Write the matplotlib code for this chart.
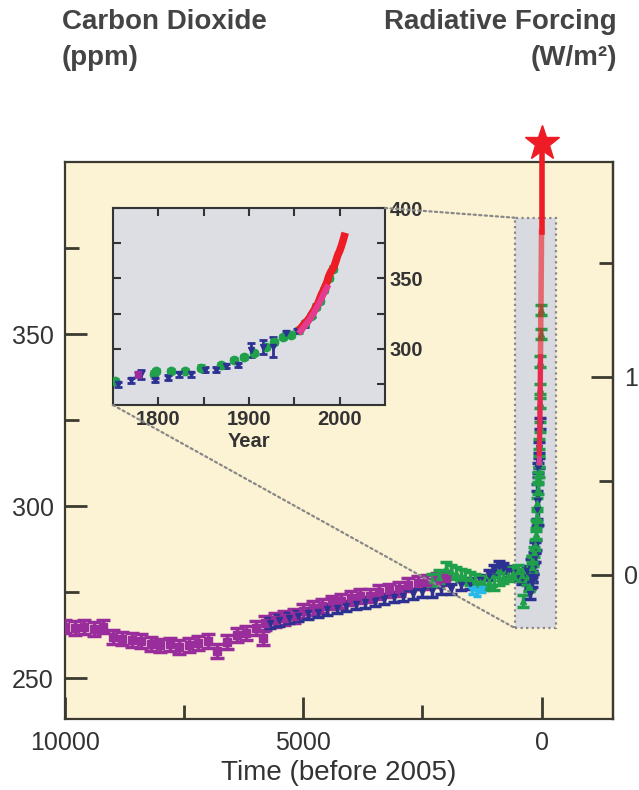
import numpy as np
import matplotlib.pyplot as plt
from matplotlib.patches import Rectangle, ConnectionPatch
from matplotlib.ticker import FixedLocator

plt.rcParams['font.family'] = ['Liberation Sans', 'DejaVu Sans']

# ice core records, years before 2005
purple_time = [10000, 9800, 9600, 9400, 9200, 9000, 8800, 8600, 8400, 8200, 8000, 7800,
               7600, 7400, 7200, 7000, 6800, 6600, 6400, 6200, 6000, 5850, 5800, 5600,
               5400, 5200, 5000, 4800, 4600, 4400, 4200, 4000, 3800, 3600, 3400, 3200,
               3000, 2800, 2600, 2400, 2200, 2000]
purple_co2 = [265.0, 264.5, 264.8, 264.2, 265.0, 262.0, 261.5, 261.0, 260.8, 260.0, 259.5, 259.8,
              259.0, 259.6, 260.2, 260.8, 258.0, 260.5, 262.5, 263.2, 264.5, 261.7, 266.0, 267.0,
              267.5, 268.0, 269.5, 270.3, 271.0, 272.0, 272.5, 273.2, 273.8, 274.0, 275.0, 275.5,
              276.0, 277.2, 277.8, 278.0, 278.5, 279.0]

blue_time = [5700, 5500, 5300, 5100, 4900, 4700, 4500, 4300, 4100, 3900, 3700, 3500, 3300,
             3100, 2900, 2700, 2500, 2300, 2100, 1900, 1700, 1500, 1300, 1100, 1000, 900,
             800, 700, 600, 500, 400, 300, 200]
blue_co2 = [266.0, 266.8, 267.5, 268.0, 268.8, 269.2, 270.0, 270.5, 271.0, 271.5, 272.0, 272.5, 273.0,
            273.5, 274.0, 274.5, 275.0, 275.2, 276.0, 276.0, 277.0, 277.5, 278.5, 280.0, 281.5, 282.5,
            282.0, 281.0, 280.5, 280.0, 279.0, 281.0, 279.5]

green_time = [2300, 2150, 2000, 1900, 1800, 1700, 1600, 1500, 1400, 1300, 1200, 1100, 1000,
              900, 800, 700, 600, 500, 400, 380, 300, 260]
green_co2 = [278.5, 279.5, 282.0, 281.0, 280.5, 280.0, 279.5, 279.0, 278.5, 278.0, 277.5, 278.0, 277.5,
             279.0, 279.5, 280.0, 280.5, 281.0, 280.0, 272.5, 279.0, 277.0]

cyan_time = [1450, 1350, 1250]
cyan_co2 = [275.5, 275.0, 276.0]

# recent records, calendar year
law_year = [1752, 1795, 1798, 1814, 1829, 1847, 1869, 1884, 1895, 1906, 1919, 1928, 1937,
            1946, 1955, 1962, 1968, 1974, 1978, 1983, 1988, 1993]
law_co2 = [276.8, 282.4, 284.0, 284.0, 284.0, 286.6, 288.7, 292.0, 294.4, 297.0, 301.0, 305.0, 308.5,
           310.0, 313.0, 318.0, 323.0, 330.0, 334.0, 342.0, 350.0, 357.0]

siple_year = [1756, 1770, 1781, 1796, 1811, 1823, 1836, 1851, 1864, 1875, 1888, 1902, 1915,
              1927, 1941, 1953, 1962, 1970]
siple_co2 = [274.6, 277.5, 281.7, 278.0, 279.5, 281.7, 281.7, 285.2, 285.2, 288.0, 288.7, 299.3, 301.4,
             301.4, 311.0, 312.5, 317.0, 324.0]
siple_err = [1.5, 1.5, 3.0, 1.5, 1.5, 1.5, 1.5, 1.5, 1.5, 1.5, 1.5, 5.0, 5.0,
             7.0, 1.5, 1.5, 1.5, 1.5]

mlo_year = [1958, 1960, 1962, 1964, 1966, 1968, 1970, 1972, 1974, 1976, 1978, 1980, 1982,
            1984, 1986, 1988, 1990, 1992, 1994, 1996, 1998, 2000, 2002, 2004, 2005]
mlo_co2 = [315.3, 316.9, 318.4, 319.6, 321.4, 323.0, 325.7, 327.5, 330.2, 332.1, 335.4, 338.7, 341.1,
           344.4, 347.2, 351.5, 354.4, 356.4, 358.8, 362.6, 366.7, 369.5, 373.2, 377.5, 379.8]

spo_year = [1957, 1960, 1963, 1966, 1969, 1972, 1975, 1978, 1981, 1984, 1986]
spo_co2 = [312.5, 315.0, 317.5, 319.8, 323.0, 326.0, 329.5, 333.0, 337.0, 341.0, 343.5]

star_co2 = 405.5

PURPLE = '#9a2d9c'
BLUE = '#2d3192'
GREEN = '#20a04a'
CYAN = '#29b8ea'
RED = '#ee1c25'
PINK = '#e63a8f'
CREAM = '#fcf2d4'
GRAY = '#dcdee4'
INK = '#333333'


def to_forcing(c):
    return 5.35 * np.log(np.clip(c, 1e-6, None) / 280.0)


def to_ppm(f):
    return 280.0 * np.exp(np.asarray(f) / 5.35)


fig = plt.figure(figsize=(6.39, 7.90), dpi=100)
ax = fig.add_axes([0.1017, 0.0893, 0.8576, 0.7056])
ax.set_facecolor(CREAM)
ax.set_xlim(10000, -1500)
ax.set_ylim(238, 400)

# zoom box around the recent period
ax.add_patch(Rectangle((550, 264.5), -860, 119.3, facecolor='#d8dae0', edgecolor='#888888',
                       linestyle=(0, (1, 1.5)), linewidth=1.6, zorder=1))

eb = dict(linestyle='none', elinewidth=2.5, capthick=2.5, zorder=3)
ax.errorbar(purple_time, purple_co2, yerr=2.0, fmt='s', ms=6, color=PURPLE, capsize=5, **eb)
ax.errorbar(blue_time, blue_co2, yerr=1.5, fmt='v', ms=5, color=BLUE, capsize=4, **eb)
ax.errorbar(green_time, green_co2, yerr=1.8, fmt='^', ms=5, color=GREEN, capsize=4, **eb)
ax.errorbar(cyan_time, cyan_co2, yerr=1.0, fmt='v', ms=4, color=CYAN, capsize=3, **eb)

law_t = [2005 - y for y in law_year]
siple_t = [2005 - y for y in siple_year]
mlo_t = [2005 - y for y in mlo_year]
spo_t = [2005 - y for y in spo_year]
ax.errorbar(siple_t, siple_co2, yerr=siple_err, fmt='v', ms=5, color=BLUE, capsize=4, **eb)
ax.errorbar(law_t, law_co2, yerr=1.5, fmt='^', ms=5, color=GREEN, capsize=4, **eb)
ax.plot(spo_t, spo_co2, color=PINK, lw=3.5, zorder=4)
ax.plot(mlo_t, mlo_co2, color=RED, lw=4, alpha=0.6, zorder=4)
ax.plot([0, 0], [mlo_co2[-1], star_co2], color=RED, lw=4, zorder=5, clip_on=False)
ax.plot([0], [star_co2], marker='*', ms=26, color=RED, zorder=6, clip_on=False)

for s in ax.spines.values():
    s.set_color('#3a3a30')
    s.set_linewidth(1.6)

ax.set_xticks([10000, 5000, 0])
ax.xaxis.set_minor_locator(FixedLocator([7500, 2500]))
ax.set_yticks([250, 300, 350])
ax.yaxis.set_minor_locator(FixedLocator([275, 325, 375]))
ax.tick_params(which='both', direction='in', width=2, color='#3a3a30', labelcolor=INK,
               labelsize=18, right=False, top=False)
ax.tick_params(which='major', length=16, pad=8)
ax.tick_params(which='minor', length=10)
ax.set_xlabel('Time (before 2005)', fontsize=20, color=INK, labelpad=4)

sec = ax.secondary_yaxis('right', functions=(to_forcing, to_ppm))
sec.set_yticks([0, 1])
sec.yaxis.set_minor_locator(FixedLocator([0.5, 1.5]))
sec.spines['right'].set_color('#3a3a30')
sec.spines['right'].set_linewidth(1.6)
sec.tick_params(which='both', direction='in', width=2, color='#3a3a30', labelcolor=INK,
                labelsize=18, pad=8)
sec.tick_params(which='major', length=16)
sec.tick_params(which='minor', length=10)

# inset
ins = fig.add_axes([0.1768, 0.4873, 0.4257, 0.2494])
ins.set_facecolor(GRAY)
ins.set_xlim(1750, 2050)
ins.set_ylim(260, 400)
ie = dict(linestyle='none', elinewidth=2, capthick=2, zorder=3)
ins.errorbar(law_year, law_co2, yerr=1.5, fmt='o', ms=6, color=GREEN, capsize=3, **ie)
ins.errorbar(siple_year, siple_co2, yerr=siple_err, fmt='v', ms=5, color=BLUE, capsize=3, **ie)
ins.errorbar([1778], [281.7], yerr=2.0, fmt='s', ms=4, color=PURPLE, capsize=3, **ie)
ins.plot(mlo_year, mlo_co2, color=RED, lw=5.5, zorder=4)
ins.plot(spo_year, spo_co2, color=PINK, lw=4.5, zorder=5)

for s in ins.spines.values():
    s.set_color('#333333')
    s.set_linewidth(1.5)
ins.set_xticks([1800, 1900, 2000])
ins.xaxis.set_minor_locator(FixedLocator([1850, 1950]))
ins.set_yticks([300, 350, 400])
ins.yaxis.set_minor_locator(FixedLocator([275, 325, 375]))
ins.tick_params(which='both', direction='in', length=6, width=1.5, color='#333333',
                top=True, right=True, left=True, labelleft=False, labelright=True,
                labelsize=14.5, labelcolor=INK)
for lab in ins.get_xticklabels() + ins.get_yticklabels():
    lab.set_fontweight('bold')
ins.set_xlabel('Year', fontsize=14.5, fontweight='bold', color=INK, labelpad=2)

# dotted connectors from the inset to the zoom box
for xy_ins, xy_main in [((0, 0), (550, 264.5)), ((1, 1), (550, 383.8))]:
    con = ConnectionPatch(xyA=xy_ins, coordsA=ins.transAxes, xyB=xy_main, coordsB=ax.transData,
                          color='#888888', linestyle=(0, (1, 1.5)), linewidth=1.6, zorder=2)
    fig.add_artist(con)

fig.text(62 / 639, 1 - 9 / 790, 'Carbon Dioxide\n(ppm)', ha='left', va='top',
         fontsize=20, fontweight='bold', color='#444444', linespacing=1.5)
fig.text(617 / 639, 1 - 9 / 790, 'Radiative Forcing\n(W/m²)', ha='right', va='top',
         fontsize=20, fontweight='bold', color='#444444', linespacing=1.5, multialignment='right')

fig.savefig('out.png', dpi=100)
